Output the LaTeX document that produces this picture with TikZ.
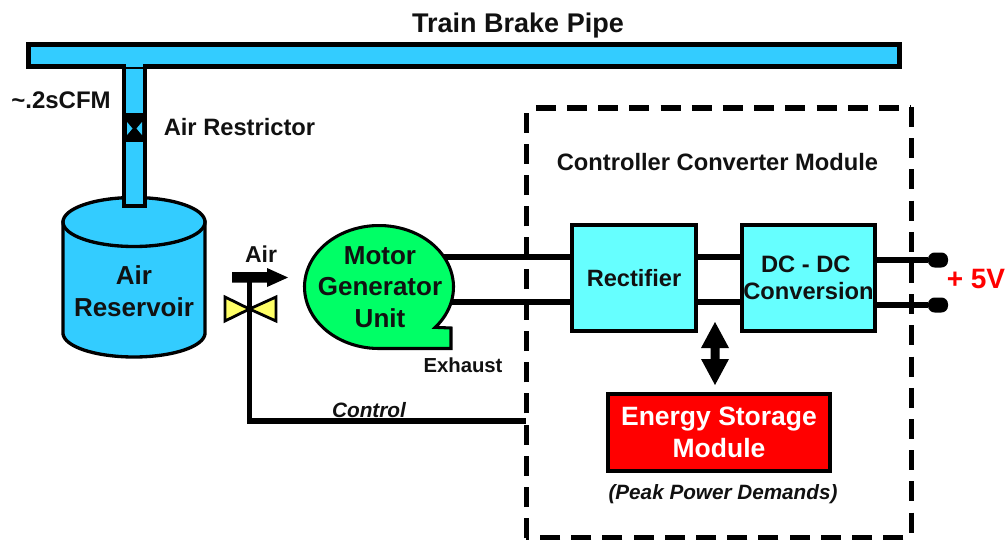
\documentclass[tikz,border=0pt]{standalone}
\usepackage{fontspec}
\setmainfont{Liberation Sans}
\usetikzlibrary{calc,shapes.geometric}
\definecolor{pipeblue}{HTML}{33CCFF}
\definecolor{motorgreen}{HTML}{00FF66}
\definecolor{boxcyan}{HTML}{66FFFF}
\definecolor{valveyellow}{HTML}{FFFF66}
\definecolor{ink}{HTML}{111111}
\newcommand{\pxf}[2]{\fontsize{\dimexpr#1pt*3/4\relax}{\dimexpr#2pt*3/4\relax}\selectfont\bfseries}
\tikzset{
  x=0.75pt,y=-0.75pt,
  wire/.style={draw=black,line width=4.2pt},
  thinwire/.style={draw=black,line width=4pt},
  dashy/.style={draw=black,line width=4pt,dash pattern=on 15pt off 8.4pt},
  block/.style={draw=black,line width=2.3pt,inner sep=0pt,align=center,text=ink},
  lab/.style={anchor=base,inner sep=0pt,text=ink,align=center},
}
\begin{document}
\begin{tikzpicture}
\useasboundingbox (0,0) rectangle (1007,540);
% dashed enclosure
\node[minimum width=384.3*0.75pt,minimum height=428.7*0.75pt,inner sep=0pt] (cbox) at (718.85,322.65) {};
\draw[dashy] ([xshift=7pt]cbox.north west) -- (cbox.north east);
\draw[dashy] ([yshift=0.75pt]cbox.north east) -- (cbox.south east);
\draw[dashy] ([xshift=-6pt]cbox.south east) -- (cbox.south west);
\draw[dashy] ([yshift=-0.75pt]cbox.south west) -- (cbox.north west);
% main pipe and branch
\node[draw=black,fill=pipeblue,line width=3.7pt,minimum width=871*0.75pt,minimum height=22*0.75pt,inner sep=0pt] (pipe) at (464,55.5) {};
% reservoir
\fill[pipeblue,draw=black,line width=2.5pt] (63,222) -- (63,333) -- plot[domain=180:0,samples=50] ({134+71*cos(\x)},{333+24*sin(\x)}) -- (205,222) -- cycle;
\node[draw=black,fill=pipeblue,line width=2.5pt,ellipse,minimum width=142*0.75pt,minimum height=49*0.75pt,inner sep=0pt] (restop) at (134,222) {};
\node[lab,font=\pxf{26}{32},anchor=center] (resl) at (134,291) {Air\\Reservoir};
% branch pipe
\node[draw=black,fill=pipeblue,line width=3.3pt,minimum width=20.5*0.75pt,minimum height=139*0.75pt,inner sep=0pt,anchor=north] (branch) at (134.5,65) {};
\fill[pipeblue] (126,60) rectangle (143,66.5);
% restrictor
\node[fill=black,minimum width=25*0.75pt,minimum height=29*0.75pt,inner sep=0pt] (restr) at (134.5,127.5) {};
\fill[pipeblue] (127,122) -- (132.5,128.5) -- (127,135) -- cycle;
\fill[pipeblue] (142,122) -- (136.5,128.5) -- (142,135) -- cycle;
% control line and valve
\coordinate (valve) at (249.5,309);
\coordinate (corner) at (249.5,421);
\coordinate (stemtop) at (249.5,280);
\draw[thinwire] (stemtop) -- (corner) -- (corner -| cbox.west);
\fill[valveyellow,draw=black,line width=2.1pt,line join=miter] (valve) -- (225,297) -- (225,321) -- cycle;
\fill[valveyellow,draw=black,line width=2.1pt,line join=miter] (valve) -- (276,297) -- (276,321) -- cycle;
\draw[thinwire] (stemtop) -- (valve);
% air arrow
\fill[black] (232,272) -- (267,272) -- (267,268) -- (288,277.5) -- (267,287) -- (267,282.5) -- (232,282.5) -- cycle;
% boxes
\node[block,fill=boxcyan,minimum width=124*0.75pt,minimum height=106*0.75pt,font=\pxf{23.6}{31}] (rect) at (634,278) {Rectifier};
\node[block,fill=boxcyan,minimum width=133*0.75pt,minimum height=106*0.75pt,font=\pxf{23.7}{27}] (dcdc) at (808.5,278) {DC - DC\kern4pt\\Conversion};
\node[block,fill=red,text=white,minimum width=222*0.75pt,minimum height=77*0.75pt,font=\pxf{26.5}{32}] (esm) at (719,432.5) {\raisebox{-1.5pt}{Energy Storage}\\\raisebox{-1.5pt}{Module}};
% motor connectors
\coordinate (mgA) at (440,257);
\coordinate (mgB) at (445,302);
\draw[wire] (mgA) -- (mgA -| rect.west);
\draw[wire] (mgB) -- (mgB -| rect.west);
% motor
\fill[motorgreen,draw=black,line width=2.3pt,line join=miter] plot[domain=90:401,samples=90] ({379+74.5*cos(\x)},{287+61.5*sin(\x)}) -- (451,328) -- (451,348.5) -- cycle;
\node[lab,font=\pxf{26}{31.5},anchor=center] (mgl) at (380,287) {Motor\\Generator\\Unit};
% rectifier to converter
\coordinate (linkA) at (rect.east |- mgA);
\coordinate (linkB) at (rect.east |- mgB);
\draw[wire] (linkA) -- (linkA -| dcdc.west);
\draw[wire] (linkB) -- (linkB -| dcdc.west);
% outputs
\node[fill=black,rounded corners=5pt,minimum width=20*0.75pt,minimum height=15*0.75pt,inner sep=0pt] (tA) at (938,260) {};
\node[fill=black,rounded corners=5pt,minimum width=20*0.75pt,minimum height=15*0.75pt,inner sep=0pt] (tB) at (938,305) {};
\draw[thinwire] (tA) -- (tA -| dcdc.east);
\draw[thinwire] (tB) -- (tB -| dcdc.east);
% double arrow
\fill[black] (715,322) -- (729,348) -- (719.5,348) -- (719.5,359) -- (729,359) -- (715,385) -- (701,359) -- (710.5,359) -- (710.5,348) -- (701,348) -- cycle;
% labels
\node[lab,font=\pxf{27}{32}] (ttl) at (518,32) {Train Brake Pipe};
\node[lab,font=\pxf{24}{30}] (cfm) at (61,108) {\textasciitilde.2sCFM};
\node[lab,font=\pxf{23.7}{30}] (arl) at (239.5,135) {Air Restrictor};
\node[lab,font=\pxf{23}{30}] (airl) at (261,262) {Air};
\node[lab,font=\pxf{20.3}{30}] (exh) at (463,372) {Exhaust};
\node[lab,font=\pxf{20.8}{30}\itshape] (ctl) at (369,417) {Control};
\node[lab,font=\pxf{23.7}{30}] (ccm) at (717.5,170) {Controller Converter Module};
\node[lab,font=\pxf{20.7}{30}\itshape] (peak) at (723,499) {(Peak Power Demands)};
\node[lab,font=\pxf{28}{30},text=red] (volt) at (976,288) {+ 5V};
\end{tikzpicture}
\end{document}
